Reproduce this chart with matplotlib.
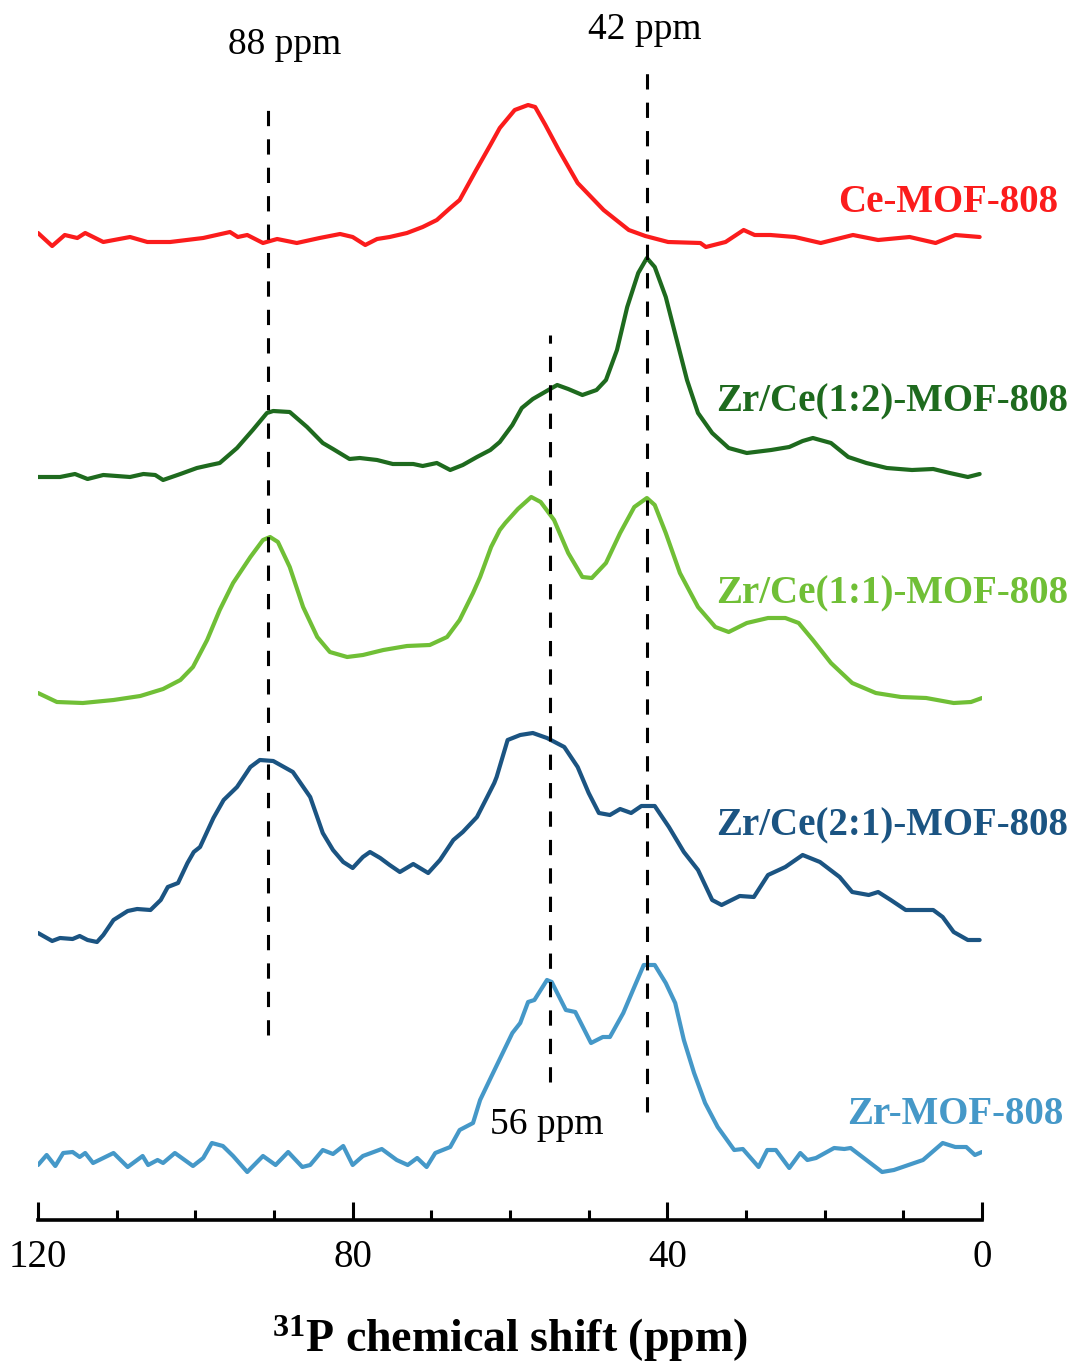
import matplotlib
matplotlib.use("Agg")
import matplotlib.pyplot as plt

plt.rcParams['font.family'] = ['Liberation Serif', 'DejaVu Serif']
plt.rcParams['mathtext.fontset'] = 'custom'
plt.rcParams['mathtext.rm'] = 'Liberation Serif'
plt.rcParams['mathtext.bf'] = 'Liberation Serif:bold'

# --- spectra: chemical shift (ppm) and intensity (a.u.)
ce_ppm = [120, 118.2, 116.6, 115.0, 114.0, 111.7, 108.3, 106.1, 103.2, 99.0,
          95.6, 94.6, 93.4, 91.4, 89.6, 87.1, 84.2, 81.6, 80.0, 78.4,
          76.9, 75.3, 73.1, 71.1, 69.3, 67.6, 66.4, 64.3, 62.5, 61.3,
          59.4, 57.7, 56.8, 55.5, 53.8, 51.4, 48.1, 44.9, 42.8, 39.9,
          35.8, 35.1, 32.6, 30.3, 28.9, 26.9, 23.8, 20.5, 16.4, 13.2,
          9.2, 5.9, 3.4, 0.3]
ce_int = [7, -6, 5, 2, 7, -2, 3, -2, -2, 2,
          8, 3, 5, -3, 1, -3, 2, 6, 3, -5,
          1, 3, 7, 13, 20, 32, 40, 70, 95, 112,
          130, 135, 133, 115, 90, 57, 30, 10, 4, -2,
          -3, -7, -2, 10, 5, 5, 3, -3, 5, 0,
          3, -3, 5, 3]

zc12_ppm = [120, 117.2, 115.3, 113.7, 111.7, 108.3, 106.6, 105.1, 104.1, 101.9,
            99.8, 98.1, 96.9, 94.7, 92.7, 90.9, 90.1, 88.0, 85.8, 83.8,
            82.5, 80.4, 79.1, 76.9, 74.9, 72.3, 71.1, 69.3, 67.6, 66.0,
            64.2, 62.5, 61.3, 59.7, 58.5, 57.1, 54.9, 54.0, 52.6, 50.8,
            49.0, 47.8, 46.4, 45.1, 43.7, 42.6, 41.6, 40.2, 38.9, 37.5,
            36.1, 34.3, 32.2, 29.9, 26.8, 24.5, 22.8, 21.5, 19.2, 17.0,
            14.7, 12.1, 8.9, 6.2, 4.1, 1.8, 0.3]
zc12_int = [0, 0, 3, -2, 2, 0, 3, 2, -3, 3,
            9, 12, 14, 29, 47, 64, 66, 65, 50, 34,
            28, 18, 19, 17, 13, 13, 11, 14, 7, 12,
            20, 27, 35, 52, 69, 78, 88, 92, 88, 82,
            87, 97, 127, 170, 204, 219, 210, 180, 140, 97,
            64, 44, 29, 24, 27, 30, 36, 39, 34, 20,
            14, 9, 7, 8, 4, 0, 3]

zc11_ppm = [120, 117.6, 114.3, 110.4, 107.0, 104.1, 101.9, 100.3, 98.5, 96.9,
            95.2, 93.0, 91.4, 90.5, 89.5, 88.0, 86.3, 84.5, 82.9, 80.7,
            78.7, 76.1, 73.1, 70.2, 68.0, 66.4, 64.7, 63.8, 62.4, 61.3,
            60.6, 59.0, 57.3, 56.1, 54.4, 52.6, 50.8, 49.6, 47.8, 46.0,
            44.2, 42.6, 41.6, 40.2, 38.4, 36.1, 33.9, 32.2, 29.9, 27.2,
            25.0, 23.3, 21.5, 19.2, 16.5, 13.5, 10.3, 7.1, 3.6, 1.4, 0]
zc11_int = [7, -2, -3, 0, 4, 11, 20, 33, 60, 90,
            117, 143, 160, 163, 158, 133, 93, 63, 48, 43,
            45, 50, 54, 55, 63, 80, 107, 123, 153, 170,
            177, 191, 203, 198, 180, 147, 123, 122, 137, 167,
            193, 202, 195, 167, 127, 93, 73, 68, 77, 82,
            82, 77, 60, 37, 17, 7, 3, 2, -3, -2, 2]

zc21_ppm = [120, 118.2, 117.2, 115.6, 114.7, 113.7, 112.5, 111.7, 110.4, 108.6,
            107.4, 105.7, 104.4, 103.5, 102.2, 101.0, 100.2, 99.4, 97.7, 96.4,
            94.7, 93.0, 91.8, 90.1, 87.6, 85.4, 83.8, 82.5, 81.2, 80.0,
            78.7, 77.8, 76.5, 75.3, 74.0, 72.3, 70.4, 68.9, 67.2, 66.0,
            64.2, 62.9, 62.0, 61.7, 60.3, 58.7, 57.1, 55.3, 53.1, 51.4,
            50.0, 48.7, 47.3, 46.0, 44.6, 43.3, 41.6, 39.8, 37.9, 36.1,
            34.3, 33.1, 30.8, 29.0, 27.2, 25.0, 22.8, 20.6, 18.1, 16.5,
            14.4, 13.2, 11.6, 9.7, 6.2, 5.0, 3.6, 1.8, 0.3]
zc21_int = [5, -3, 0, -1, 2, -2, -4, 3, 18, 27,
            29, 28, 38, 51, 55, 75, 86, 91, 120, 138,
            151, 171, 178, 177, 166, 141, 105, 88, 76, 70,
            81, 86, 80, 73, 66, 74, 65, 78, 98, 106,
            121, 141, 155, 161, 198, 203, 205, 200, 191, 171,
            145, 125, 123, 129, 125, 132, 132, 111, 86, 68,
            38, 33, 42, 41, 63, 71, 83, 76, 61, 46,
            43, 46, 38, 28, 28, 21, 6, -2, -2]

zr_ppm = [120, 118.9, 117.8, 116.8, 115.6, 114.7, 114.0, 113.0, 110.4, 108.6,
          106.7, 106.0, 104.8, 104.1, 102.6, 100.3, 99.0, 97.9, 96.5, 95.2,
          93.4, 91.4, 89.8, 88.2, 86.4, 85.4, 83.8, 82.5, 81.2, 80.0,
          78.7, 76.3, 74.4, 73.0, 71.8, 70.6, 69.5, 67.6, 66.4, 64.7,
          63.8, 62.4, 59.7, 58.7, 57.7, 56.9, 55.3, 54.7, 52.9, 51.7,
          49.7, 48.2, 47.3, 45.6, 44.2, 43.0, 41.6, 40.2, 39.0, 37.9,
          36.6, 35.2, 33.6, 31.5, 30.4, 28.4, 27.3, 26.2, 24.5, 23.1,
          22.2, 21.1, 18.8, 17.5, 16.7, 14.7, 12.7, 11.2, 7.5, 5.0,
          3.4, 2.0, 0.9, 0]
zr_int = [-5, 5, -6, 7, 8, 3, 7, -3, 7, -7,
          4, -5, 0, -3, 7, -6, 2, 17, 14, 4,
          -12, 4, -5, 8, -7, -5, 10, 6, 14, -5,
          4, 11, 0, -5, 2, -7, 7, 13, 30, 37,
          60, 83, 127, 137, 158, 160, 180, 178, 150, 148,
          117, 123, 123, 147, 173, 195, 195, 177, 157, 120,
          87, 57, 33, 10, 11, -7, 10, 10, -8, 7,
          0, 2, 12, 11, 12, 0, -12, -10, 0, 17,
          13, 13, 5, 8]

names = ['Ce-MOF-808', 'Zr/Ce(1:2)-MOF-808', 'Zr/Ce(1:1)-MOF-808',
         'Zr/Ce(2:1)-MOF-808', 'Zr-MOF-808']
shifts = [ce_ppm, zc12_ppm, zc11_ppm, zc21_ppm, zr_ppm]
intens = [ce_int, zc12_int, zc11_int, zc21_int, zr_int]
colors = ['#fb1c1c', '#1e6a1e', '#70bf36', '#1b5482', '#4598c8']
offsets = [980, 743, 520, 282, 60]
label_y = [1018, 818, 626, 394, 106]
label_x = [-9.7, -10.9, -10.9, -10.9, -10.3]

# reference positions marked by dashed lines: (ppm, y from, y to)
marks = [(90.8, 185, 1120), (42.6, 108, 1158), (54.9, 138, 885)]
mark_text = [('88 ppm', 88.6, 1175), ('42 ppm', 42.8, 1190), ('56 ppm', 55.3, 95)]

fig = plt.figure(figsize=(10.73, 13.65), dpi=100)
ax = fig.add_axes([38 / 1073, 145 / 1365, 944 / 1073, 1220 / 1365])

for x, y, name, c, off, lx, ly in zip(shifts, intens, names, colors, offsets,
                                      label_x, label_y):
    ax.plot(x, [v + off for v in y], color=c, lw=3.0, solid_joinstyle='round',
            solid_capstyle='round')
    ax.text(lx, ly, name, color=c, fontsize=28, fontweight='bold',
            ha='right', va='center')

for xm, y0, y1 in marks:
    ax.plot([xm, xm], [y0, y1], color='black', lw=2.2, dashes=(5, 4.3))

for t, xt, yt in mark_text:
    ax.text(xt, yt, t, fontsize=27, ha='center', va='center')

ax.set_xlim(120, 0)
ax.set_ylim(0, 1220)
for s in ['left', 'right', 'top']:
    ax.spines[s].set_visible(False)
ax.spines['bottom'].set_linewidth(2.6)
ax.set_yticks([])
ax.set_xticks([120, 80, 40, 0])
ax.set_xticks(range(0, 121, 10), minor=True)
ax.tick_params(axis='x', which='major', direction='in', length=13, width=2.2,
               labelsize=28, pad=14)
ax.tick_params(axis='x', which='minor', direction='in', length=7, width=2.2)
ax.set_xlabel(r'$\mathbf{^{31}}$P chemical shift (ppm)', fontsize=33,
              fontweight='bold', labelpad=27)

fig.savefig('out.png', dpi=100)
